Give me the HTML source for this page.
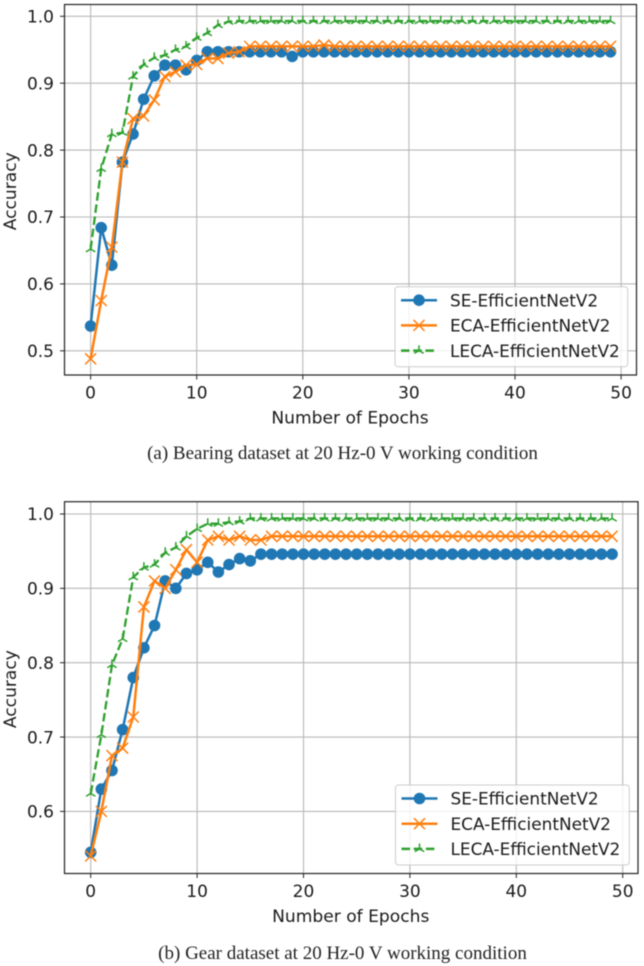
<!DOCTYPE html>
<html lang="en">
<head>
<meta charset="utf-8">
<title>Accuracy vs epochs</title>
<style>
html,body{margin:0;padding:0;background:#fff;width:644px;height:966px;overflow:hidden}
#figure{position:absolute;left:0;top:0;width:644px;height:966px;filter:blur(0.45px)}
svg text{font-family:"DejaVu Sans",sans-serif;fill:#1a1a1a}
svg text.caption{font-family:"Liberation Serif",serif;font-size:19px;fill:#222}
</style>
</head>
<body>
<svg id="figure" xmlns="http://www.w3.org/2000/svg" width="644" height="966" viewBox="0 0 644 966">
<text class="caption" x="342.5" y="459" text-anchor="middle">(a) Bearing dataset at 20 Hz-0 V working condition</text>
<text class="caption" x="342.5" y="959" text-anchor="middle">(b) Gear dataset at 20 Hz-0 V working condition</text>
</svg>
<script>
const seriesNames = ["SE-EfficientNetV2", "ECA-EfficientNetV2", "LECA-EfficientNetV2"];
const xTickLabels = [0, 10, 20, 30, 40, 50];
const bearingYTicks = [0.5, 0.6, 0.7, 0.8, 0.9, 1.0];
const gearYTicks = [0.6, 0.7, 0.8, 0.9, 1.0];

const bearingSe = [0.537,0.684,0.628,0.782,0.824,0.876,0.911,0.927,0.927,0.920,0.934,0.947,0.947,0.947,0.947,0.947,0.947,0.947,0.947,0.940,0.947,0.947,0.947,0.947,0.947,0.947,0.947,0.947,0.947,0.947,0.947,0.947,0.947,0.947,0.947,0.947,0.947,0.947,0.947,0.947,0.947,0.947,0.947,0.947,0.947,0.947,0.947,0.947,0.947,0.947];
const bearingEca = [0.488,0.575,0.655,0.782,0.847,0.851,0.875,0.910,0.917,0.927,0.928,0.937,0.937,0.945,0.947,0.955,0.955,0.955,0.955,0.955,0.955,0.955,0.957,0.955,0.955,0.955,0.955,0.955,0.955,0.955,0.955,0.955,0.955,0.955,0.955,0.955,0.955,0.955,0.955,0.955,0.955,0.955,0.955,0.955,0.955,0.955,0.955,0.955,0.955,0.955];
const bearingLeca = [0.652,0.772,0.824,0.826,0.910,0.928,0.938,0.942,0.950,0.955,0.968,0.975,0.987,0.992,0.993,0.993,0.993,0.993,0.993,0.993,0.993,0.993,0.993,0.993,0.993,0.993,0.993,0.993,0.993,0.993,0.993,0.993,0.993,0.993,0.993,0.993,0.993,0.993,0.993,0.993,0.993,0.993,0.993,0.993,0.993,0.993,0.993,0.993,0.993,0.993];

const gearSe = [0.545,0.630,0.655,0.710,0.780,0.820,0.850,0.910,0.900,0.920,0.925,0.935,0.922,0.932,0.940,0.937,0.946,0.946,0.946,0.946,0.946,0.946,0.946,0.946,0.946,0.946,0.946,0.946,0.946,0.946,0.946,0.946,0.946,0.946,0.946,0.946,0.946,0.946,0.946,0.946,0.946,0.946,0.946,0.946,0.946,0.946,0.946,0.946,0.946,0.946];
const gearEca = [0.540,0.600,0.675,0.685,0.727,0.875,0.910,0.900,0.925,0.952,0.935,0.965,0.970,0.965,0.970,0.965,0.965,0.970,0.970,0.970,0.970,0.970,0.970,0.970,0.970,0.970,0.970,0.970,0.970,0.970,0.970,0.970,0.970,0.970,0.970,0.970,0.970,0.970,0.970,0.970,0.970,0.970,0.970,0.970,0.970,0.970,0.970,0.970,0.970,0.970];
const gearLeca = [0.624,0.703,0.797,0.832,0.915,0.928,0.932,0.948,0.955,0.970,0.980,0.987,0.987,0.989,0.990,0.994,0.994,0.994,0.994,0.994,0.994,0.994,0.994,0.994,0.994,0.994,0.994,0.994,0.994,0.994,0.994,0.994,0.994,0.994,0.994,0.994,0.994,0.994,0.994,0.994,0.994,0.994,0.994,0.994,0.994,0.994,0.994,0.994,0.994,0.994];

const NS = "http://www.w3.org/2000/svg";
const fig = document.getElementById("figure");
const BLUE = "#1f77b4", ORANGE = "#ff7f0e", GREEN = "#2ca02c", GRID = "#b8b8b8", AXIS = "#222";

function mk(parent, tag, attrs, text) {
  const el = document.createElementNS(NS, tag);
  for (const k in attrs) el.setAttribute(k, attrs[k]);
  if (text !== undefined) el.textContent = text;
  parent.appendChild(el);
  return el;
}

function drawMarker(g, kind, cx, cy, color, label) {
  let m;
  if (kind === 0) {
    m = mk(g, "circle", {cx: cx, cy: cy, r: 5.8, fill: color});
  } else if (kind === 1) {
    const s = 5.5;
    m = mk(g, "path", {d: `M${cx-s} ${cy-s}L${cx+s} ${cy+s}M${cx-s} ${cy+s}L${cx+s} ${cy-s}`, stroke: color, "stroke-width": 1.5, fill: "none"});
  } else {
    const s = 5.4, dx = s * 0.866, dy = s * 0.5;
    m = mk(g, "path", {d: `M${cx} ${cy}L${cx} ${cy-s}M${cx} ${cy}L${cx-dx} ${cy+dy}M${cx} ${cy}L${cx+dx} ${cy+dy}`, stroke: color, "stroke-width": 1.5, fill: "none"});
  }
  
  
}

function drawPanel(p) {
  const sx = v => p.x0 + v * p.xStep;
  const sy = v => p.yOne + (1 - v) * p.yStep;
  const panel = mk(fig, "g", {});
  
  

  const bg = mk(panel, "rect", {x: p.left, y: p.top, width: p.right - p.left, height: p.bottom - p.top, fill: "#fff"});
  
  

  xTickLabels.forEach(t => {
    const x = sx(t);
    const grid = mk(panel, "line", {x1: x, x2: x, y1: p.top, y2: p.bottom, stroke: GRID, "stroke-width": 1.1});
    
    
    const tick = mk(panel, "line", {x1: x, x2: x, y1: p.bottom, y2: p.bottom + 4.5, stroke: AXIS, "stroke-width": 1});
    
    
    const lab = mk(panel, "text", {x: x, y: p.bottom + 23.5, "text-anchor": "middle", "font-size": 17}, String(t));
    
    
  });
  p.yTicks.forEach(t => {
    const y = sy(t);
    const grid = mk(panel, "line", {x1: p.left, x2: p.right, y1: y, y2: y, stroke: GRID, "stroke-width": 1.1});
    
    
    const tick = mk(panel, "line", {x1: p.left - 4.5, x2: p.left, y1: y, y2: y, stroke: AXIS, "stroke-width": 1});
    
    
    const lab = mk(panel, "text", {x: p.left - 10.5, y: y + 6.2, "text-anchor": "end", "font-size": 17}, t.toFixed(1));
    
    
  });

  const colors = [BLUE, ORANGE, GREEN];
  const keys = ["se", "eca", "leca"];
  p.series.forEach((vals, i) => {
    const g = mk(panel, "g", {});
    
    
    const pts = vals.map((v, k) => sx(k).toFixed(2) + "," + sy(v).toFixed(2)).join(" ");
    const attrs = {points: pts, fill: "none", stroke: colors[i], "stroke-width": i === 2 ? 2.3 : 2.5, "stroke-linejoin": "round"};
    if (i === 2) attrs["stroke-dasharray"] = "8.5 3.7";
    const line = mk(g, "polyline", attrs);
    
    
    vals.forEach((v, k) => drawMarker(g, i, sx(k), sy(v), colors[i], 'point-' + keys[i]));
  });

  const frame = mk(panel, "rect", {x: p.left, y: p.top, width: p.right - p.left, height: p.bottom - p.top, fill: "none", stroke: AXIS, "stroke-width": 1.2});
  
  

  const xt = mk(panel, "text", {x: (p.left + p.right) / 2 - 0.5, y: p.bottom + 48.5, "text-anchor": "middle", "font-size": 17.1}, "Number of Epochs");
  
  
  const cy = (p.top + p.bottom) / 2 + 1.5;
  const yt = mk(panel, "text", {x: 16, y: cy, "text-anchor": "middle", "font-size": 17.1, transform: `rotate(-90 16 ${cy})`}, "Accuracy");
  
  

  const lg = mk(panel, "g", {});
  
  
  const box = mk(lg, "rect", {x: p.legX, y: p.legY, width: p.legW, height: 80, rx: 3, fill: "#fff", "fill-opacity": 0.8, stroke: "#ccc", "stroke-width": 1});
  
  
  seriesNames.forEach((name, i) => {
    const y = p.legY + 13.5 + i * 25.2;
    const attrs = {x1: p.legX + 6, x2: p.legX + 42, y1: y, y2: y, stroke: colors[i], "stroke-width": 2.5};
    if (i === 2) attrs["stroke-dasharray"] = "8.5 3.7";
    const sw = mk(lg, "line", attrs);
    
    
    drawMarker(lg, i, p.legX + 24, y, colors[i], 'legend-marker');
    const t = mk(lg, "text", {x: p.legX + 55, y: y + 6.2, "font-size": 16.9}, name);
    
    
  });
}

drawPanel({
  name: "bearing-chart",
  left: 64.5, right: 636.5, top: 4.5, bottom: 375,
  x0: 90.6, xStep: 10.61, yOne: 16.3, yStep: 669,
  yTicks: bearingYTicks,
  series: [bearingSe, bearingEca, bearingLeca],
  legX: 395, legY: 286.7, legW: 232.7
});
drawPanel({
  name: "gear-chart",
  left: 64.5, right: 638, top: 501.7, bottom: 873.5,
  x0: 90.7, xStep: 10.64, yOne: 514, yStep: 743.5,
  yTicks: gearYTicks,
  series: [gearSe, gearEca, gearLeca],
  legX: 395.5, legY: 785, legW: 233.8
});
</script>
</body>
</html>
